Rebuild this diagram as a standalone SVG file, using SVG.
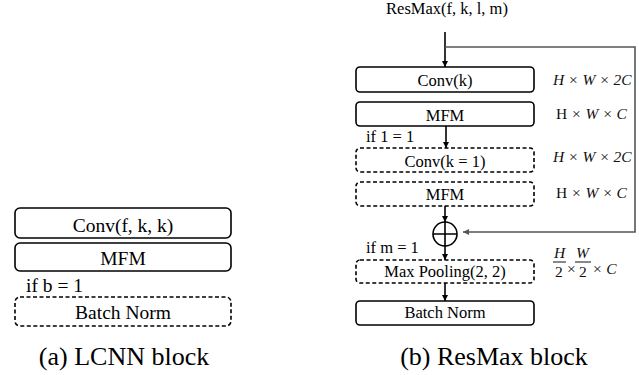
<svg xmlns="http://www.w3.org/2000/svg" width="639" height="375" viewBox="0 0 639 375" font-family="'Liberation Serif', 'Times New Roman', 'DejaVu Serif', serif">
<style>
.box{fill:#fff;stroke:#000;stroke-width:1.6}
.dash{fill:#fff;stroke:#000;stroke-width:1.6;stroke-dasharray:4 2.5}
.t{fill:#000}
.l{font-size:19.5px;text-anchor:middle}
.r{font-size:16.5px;text-anchor:middle}
.c{font-size:26px;text-anchor:middle}
.m{font-size:15.5px;fill:#111}
.i{font-style:italic}
.ln{stroke:#000;stroke-width:1.6;fill:none}
.fb{stroke:#555;stroke-width:1.6;fill:none}
</style>
<defs>
<marker id="ah" viewBox="0 0 10 10" refX="10" refY="5" markerWidth="6" markerHeight="6" markerUnits="userSpaceOnUse" orient="auto"><path d="M0,0 L10,5 L0,10 z" fill="#000"/></marker>
<marker id="ahg" viewBox="0 0 10 10" refX="10" refY="5" markerWidth="6" markerHeight="6" markerUnits="userSpaceOnUse" orient="auto"><path d="M0,0 L10,5 L0,10 z" fill="#555"/></marker>
</defs>

<!-- (a) LCNN block -->
<g id="a-conv"><rect class="box" x="15" y="208" width="216" height="30" rx="5"/><text class="t l" x="123" y="232">Conv(f, k, k)</text></g>
<g id="a-mfm"><rect class="box" x="15" y="243" width="216" height="28" rx="5"/><text class="t l" x="123" y="265">MFM</text></g>
<g id="a-cond"><text class="t" x="26" y="292" font-size="19.5">if b = 1</text></g>
<g id="a-bn"><rect class="dash" x="15" y="297" width="216" height="29" rx="5"/><text class="t l" x="123" y="319">Batch Norm</text></g>
<g id="a-caption"><text class="t c" x="124" y="365">(a) LCNN block</text></g>

<!-- (b) ResMax block -->
<g id="b-title"><text class="t r" x="447" y="14">ResMax(f, k, l, m)</text></g>
<g id="b-conv"><rect class="box" x="356" y="67" width="178" height="25" rx="4"/><text class="t r" x="445" y="86">Conv(k)</text></g>
<g id="b-mfm"><rect class="box" x="356" y="102" width="178" height="24" rx="4"/><text class="t r" x="445" y="121">MFM</text></g>
<g id="b-cond1"><text class="t" x="366" y="142" font-size="16.5">if  1 = 1</text></g>
<g id="b-conv1"><rect class="dash" x="356" y="148" width="178" height="24" rx="4"/><text class="t r" x="445" y="167">Conv(k  = 1)</text></g>
<g id="b-mfm2"><rect class="dash" x="356" y="182" width="178" height="24" rx="4"/><text class="t r" x="445" y="200">MFM</text></g>
<g id="b-sum"><circle cx="445" cy="234" r="12" fill="#fff" stroke="#000" stroke-width="1.6"/><path class="ln" d="M433,234 H457 M445,222 V246"/></g>
<g id="b-cond2"><text class="t" x="366" y="253" font-size="16.5">if  m = 1</text></g>
<g id="b-pool"><rect class="dash" x="356" y="260" width="178" height="23" rx="4"/><text class="t r" x="445" y="277">Max Pooling(2, 2)</text></g>
<g id="b-bn"><rect class="box" x="356" y="301" width="178" height="24" rx="4"/><text class="t r" x="445" y="318">Batch Norm</text></g>
<g id="b-caption"><text class="t c" x="494" y="365">(b) ResMax block</text></g>

<g id="b-dims">
<text class="m i" x="553" y="85">H × W × 2C</text>
<text class="m" x="556" y="119">H <tspan class="i">× W × C</tspan></text>
<text class="m i" x="553" y="162">H × W × 2C</text>
<text class="m" x="556" y="198">H <tspan class="i">× W × C</tspan></text>
<text class="m i" x="554" y="258" font-size="14">H</text>
<line x1="553" y1="262" x2="566" y2="262" stroke="#111" stroke-width="1"/>
<text class="m" x="555" y="277" font-size="14">2</text>
<text class="m" x="567" y="274" font-size="14">×</text>
<text class="m i" x="576" y="258" font-size="14">W</text>
<line x1="575" y1="262" x2="591" y2="262" stroke="#111" stroke-width="1"/>
<text class="m" x="579" y="277" font-size="14">2</text>
<text class="m i" x="592" y="274" font-size="14">× C</text>
</g>

<g id="connectors">
<line class="ln" x1="445" y1="32" x2="445" y2="67" marker-end="url(#ah)"/>
<line class="ln" x1="446" y1="126" x2="446" y2="148" marker-end="url(#ah)"/>
<line class="ln" x1="445" y1="206" x2="445" y2="222" marker-end="url(#ah)"/>
<line class="ln" x1="445" y1="246" x2="445" y2="260" marker-end="url(#ah)"/>
<line class="ln" x1="445" y1="283" x2="445" y2="301" marker-end="url(#ah)"/>
<polyline class="fb" points="445,47 635,47 635,232 463,232" marker-end="url(#ahg)"/>
</g>
</svg>
